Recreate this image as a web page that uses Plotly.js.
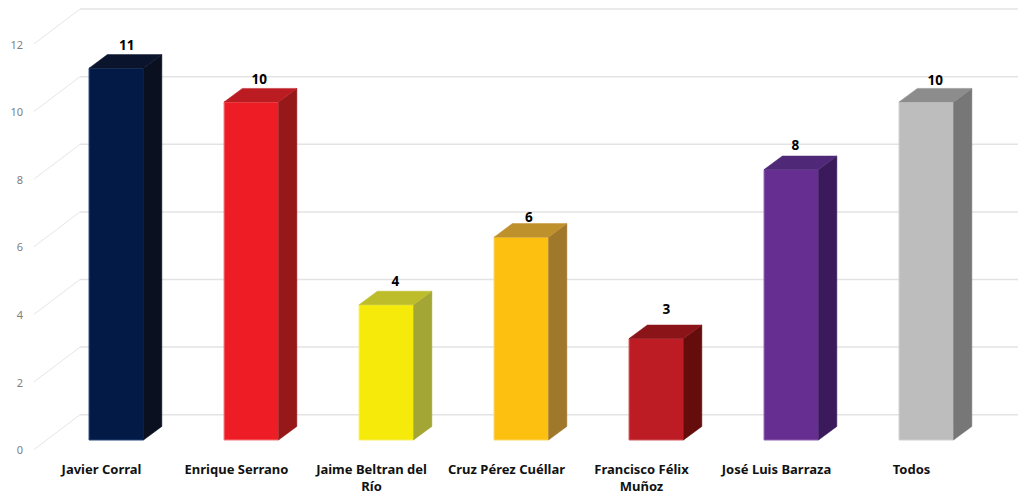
<!DOCTYPE html>
<html>
<head>
<meta charset="utf-8">
<script src="https://cdn.plot.ly/plotly-3.0.1.min.js"></script>
<style>html,body{margin:0;padding:0;background:#fff}#c{width:1018px;height:497px}</style>
</head>
<body>
<div id="c"></div>
<script>
const candidates = ["Javier Corral","Enrique Serrano","Jaime Beltran del<br>Río","Cruz Pérez Cuéllar","Francisco Félix<br>Muñoz","José Luis Barraza","Todos"];
const votes = [11,10,4,6,3,8,10];
const frontColors = ["#021a45","#ee1c25","#f5ea0a","#fdbf10","#be1c24","#662e91","#bdbdbd"];
const edgeColors  = ["#27477f","#f4787d","#f8f060","#fdd760","#d0585e","#8f63b0","#cfcfcf"];
const sideColors  = ["#0a1020","#961818","#a3a535","#a0782b","#650c0c","#3b1a5c","#777777"];
const topColors   = ["#0a142d","#bb1c22","#bdbd2c","#bf912d","#8b1418","#4f2878","#8c8c8c"];
const valueTicks  = [0,2,4,6,8,10,12];
// small hand placement of each value label, in pixels
const labelNudgeX = [1.5,-1,0,-1.5,1,-5,0];
const labelNudgeY = [1,1,2,-2,8,3,0];

const W = 1018, H = 497, L = 24, B = 37;
const pxPerCat = 135, pxPerUnit = 33.8;
const plotH = H - B;
// Marks axes (x2/y2): category i centred at 116.3 px, value 0 at y=440 px
const xMarks = [(L-116.3)/pxPerCat, (W-116.3)/pxPerCat];
const yMarks = [(440-plotH)/pxPerUnit, 440/pxPerUnit];
// Label/wall axes (x/y): labels shifted left and down
const labelZero = 450.3;
const xLabels = [(L-101.5)/pxPerCat, (W-101.5)/pxPerCat];
const yLabels = [(labelZero-plotH)/pxPerUnit, labelZero/pxPerUnit];

const barW = 54.5/pxPerCat, depthX = 18.3/pxPerCat, depthY = 13.6/pxPerUnit;
const wallX0 = (34-101.5)/pxPerCat, wallX1 = (80-101.5)/pxPerCat, wallY = 34.8/pxPerUnit, wallShift = 0.8/pxPerUnit;

const idx = candidates.map((_,i)=>i);
const traces = [];

// wall diagonals and back gridlines
const dx=[],dy=[],gx=[],gy=[];
valueTicks.forEach(v=>{
  dx.push(wallX0,wallX1,null); dy.push(v+wallShift,v+wallShift+wallY,null);
  gx.push(wallX1,xLabels[1],null); gy.push(v+wallShift+wallY,v+wallShift+wallY,null);
});
traces.push({type:'scatter',mode:'lines',x:dx,y:dy,xaxis:'x',yaxis:'y',line:{color:'#e6e6e6',width:1},hoverinfo:'skip',showlegend:false});
traces.push({type:'scatter',mode:'lines',x:gx,y:gy,xaxis:'x',yaxis:'y',line:{color:'#e3e3e3',width:1.5},hoverinfo:'skip',showlegend:false});

// front faces
traces.push({type:'bar',x:idx,y:votes,width:barW,xaxis:'x2',yaxis:'y2',
  marker:{color:frontColors,line:{color:edgeColors,width:1}},hoverinfo:'x+y',showlegend:false});

// side and top faces
idx.forEach(i=>{
  const r=i+barW/2, l=i-barW/2, v=votes[i];
  traces.push({type:'scatter',mode:'lines',x:[r,r+depthX,r+depthX,r,r],y:[0,depthY,v+depthY,v,0],
    xaxis:'x2',yaxis:'y2',fill:'toself',fillcolor:sideColors[i],line:{color:sideColors[i],width:0.5},hoverinfo:'skip',showlegend:false});
  traces.push({type:'scatter',mode:'lines',x:[l,l+depthX,r+depthX,r,l],y:[v,v+depthY,v+depthY,v,v],
    xaxis:'x2',yaxis:'y2',fill:'toself',fillcolor:topColors[i],line:{color:topColors[i],width:0.5},hoverinfo:'skip',showlegend:false});
});

// data labels
traces.push({type:'scatter',mode:'text',
  x:idx.map(i=>i+(9+labelNudgeX[i])/pxPerCat),
  y:votes.map((v,i)=>v+depthY+labelNudgeY[i]/pxPerUnit),
  text:votes.map(String),
  textposition:'top center',xaxis:'x2',yaxis:'y2',textfont:{family:'Noto Sans',size:13.5,color:'#000',weight:700},hoverinfo:'skip',showlegend:false});

const layout = {
  width:W,height:H,margin:{l:L,r:0,t:0,b:B},paper_bgcolor:'#fff',plot_bgcolor:'#fff',showlegend:false,
  font:{family:'Noto Sans'},
  xaxis:{range:xLabels,tickmode:'array',tickvals:idx,ticktext:candidates,tickangle:0,showgrid:false,zeroline:false,showline:false,ticks:'',
    tickfont:{family:'Noto Sans',size:13,color:'#111',weight:700},automargin:false},
  yaxis:{range:yLabels,tickmode:'array',tickvals:valueTicks,ticktext:valueTicks.map(String),showgrid:false,zeroline:false,showline:false,ticks:'',
    tickfont:{family:'Noto Sans',size:11,color:'#808080'},automargin:false},
  xaxis2:{range:xMarks,overlaying:'x',visible:false,anchor:'y2'},
  yaxis2:{range:yMarks,overlaying:'y',visible:false,anchor:'x2'}
};
Plotly.newPlot('c',traces,layout,{displayModeBar:false,staticPlot:true});
</script>
</body>
</html>
